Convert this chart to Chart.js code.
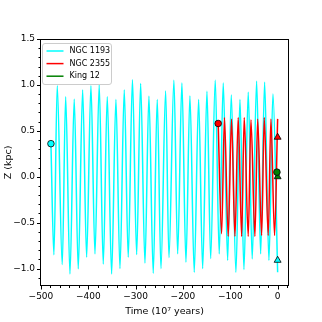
<!DOCTYPE html>
<html><head><meta charset="utf-8">
<script src="https://cdn.jsdelivr.net/npm/chart.js@4.4.1/dist/chart.umd.min.js"></script>
<style>html,body{margin:0;padding:0;background:#fff}</style>
</head><body>
<canvas id="c" width="322" height="322"></canvas>
<script>
// orbit Z(t), time in 10^7 yr, Z in kpc (turning points)
const ngc1193T=[-478.9,-472.6,-465.6,-455.0,-447.8,-438.7,-429.7,-421.2,-411.9,-403.5,-394.4,-385.9,-376.9,-368.4,-359.9,-350.7,-341.6,-333.1,-324.0,-315.6,-306.7,-297.8,-289.4,-280.3,-271.9,-262.8,-254.3,-246.5,-236.6,-229.6,-219.1,-211.2,-202.2,-193.7,-185.3,-176.2,-166.9,-158.4,-149.3,-141.5,-131.8,-123.4,-114.9,-105.6,-98.0,-88.1,-79.6,-71.2,-62.1,-53.7,-44.4,-35.9,-27.5,-18.4,-9.9,0];
const ngc1193Z=[0.36,-0.85,0.99,-0.957,0.87,-1.058,0.845,-1.003,0.945,-0.877,0.99,-0.84,1.0,-0.95,0.87,-1.058,0.84,-1.0,0.945,-0.877,1.055,-0.848,1.015,-0.94,0.877,-1.05,0.84,-1.0,0.935,-0.88,1.05,-0.84,1.02,-0.93,0.88,-1.04,0.84,-1.0,0.93,-0.89,1.05,-0.84,1.02,-0.91,0.89,-1.04,0.84,-1.01,0.92,-0.895,1.04,-0.84,1.03,-0.91,0.90,-1.04];
const ngc2355T=[-125.6,-118.3,-112.4,-104.4,-97.4,-90.2,-83.3,-76.0,-70.6,-62.1,-56.4,-48.0,-42.2,-33.8,-28.3,-19.9,-14.2,-6.5,0];
const ngc2355Z=[0.58,-0.62,0.645,-0.65,0.63,-0.65,0.645,-0.65,0.645,-0.65,0.62,-0.65,0.63,-0.64,0.645,-0.64,0.63,-0.64,0.63];
const king12T=[-1.5,0];
const king12Z=[0.05,0.0];
// birth (circle) and present (triangle) positions
const startT=[-478.9,-125.6,-1.5], startZ=[0.36,0.58,0.05];
const nowT=[0,0,0], nowZ=[-0.91,0.43,0.0];
const names=['NGC 1193','NGC 2355','King 12'];
const colors=['#00ffff','#ff0000','#008000'];
const xTicks=[-500,-400,-300,-200,-100,0];
const yTicks=[-1.0,-0.5,0.0,0.5,1.0,1.5];
const xMinor=[-500,-480,-460,-440,-420,-400,-380,-360,-340,-320,-300,-280,-260,-240,-220,-200,-180,-160,-140,-120,-100,-80,-60,-40,-20,0,20];
const yMinor=[-1.1,-1.0,-0.9,-0.8,-0.7,-0.6,-0.5,-0.4,-0.3,-0.2,-0.1,0.0,0.1,0.2,0.3,0.4,0.5,0.6,0.7,0.8,0.9,1.0,1.1,1.2,1.3,1.4,1.5];

const pts=(t,z)=>t.map((v,i)=>({x:v,y:z[i]}));
const orbits=[[ngc1193T,ngc1193Z],[ngc2355T,ngc2355Z],[king12T,king12Z]];
const fmt=v=>(v<0?'\u2212':'')+Math.abs(v).toFixed(1);
const fmtInt=v=>(v<0?'\u2212':'')+Math.abs(v);

let ds=[];
orbits.forEach((o,i)=>ds.push({label:names[i],data:pts(o[0],o[1]),borderColor:colors[i],borderWidth:1.5,pointRadius:0,cubicInterpolationMode:'monotone',fill:false,order:10-i}));
names.forEach((n,i)=>{
  ds.push({label:'',data:[{x:startT[i],y:startZ[i]}],showLine:false,pointStyle:'circle',pointRadius:3.3,backgroundColor:colors[i],borderColor:'#000',borderWidth:0.8,order:3-i});
  ds.push({label:'',data:[{x:nowT[i],y:nowZ[i]}],showLine:false,pointStyle:'triangle',pointRadius:4,backgroundColor:colors[i],borderColor:'#000',borderWidth:0.8,order:3-i});
});

const frame={id:'frame',afterDraw(ch){
  const c=ch.ctx,a=ch.chartArea,xs=ch.scales.x,ys=ch.scales.y;
  c.save();c.strokeStyle='#000';c.lineWidth=1;
  c.strokeRect(Math.round(a.left)+0.5,Math.round(a.top)+0.5,Math.round(a.right-a.left)-1,Math.round(a.bottom-a.top)-1);
  c.beginPath();
  const b=Math.round(a.bottom),l=Math.round(a.left)+0.5;
  xMinor.forEach(v=>{let p=Math.round(xs.getPixelForValue(v))+0.5;if(p<a.left||p>a.right)return;let L=xTicks.includes(v)?3.5:2;c.moveTo(p,b);c.lineTo(p,b+L);});
  yMinor.forEach(v=>{let p=Math.round(ys.getPixelForValue(v))+0.5;if(p<a.top||p>a.bottom)return;let L=yTicks.some(t=>Math.abs(t-v)<1e-6)?3.5:2;c.moveTo(l,p);c.lineTo(l-L,p);});
  c.stroke();
  // legend
  const bx=42.5,by=43.5,bw=69,bh=41;
  c.fillStyle='rgba(255,255,255,0.85)';c.strokeStyle='#cccccc';c.lineWidth=1;
  c.beginPath();c.roundRect(bx,by,bw,bh,2.5);c.fill();c.stroke();
  c.font='8px "DejaVu Sans"';c.textBaseline='middle';c.textAlign='left';
  names.forEach((n,i)=>{let y=by+7.5+i*12.6;
    c.strokeStyle=colors[i];c.lineWidth=1.5;c.beginPath();c.moveTo(bx+4,y);c.lineTo(bx+21,y);c.stroke();
    c.fillStyle='#000';c.fillText(n,bx+27,y);});
  c.restore();
}};

new Chart(document.getElementById('c'),{
  type:'line',
  data:{datasets:ds},
  options:{
    responsive:false,animation:false,
    layout:{padding:{left:0,right:33,top:39,bottom:0}},
    plugins:{legend:{display:false},tooltip:{enabled:false}},
    scales:{
      x:{type:'linear',min:-502,max:24,
        grid:{display:false,drawTicks:false},border:{display:false},
        afterBuildTicks:s=>{s.ticks=xTicks.map(v=>({value:v}));},
        afterFit:s=>{s.height=36;},
        ticks:{color:'#000',padding:5,maxRotation:0,autoSkip:false,font:{family:'DejaVu Sans',size:9},callback:v=>fmtInt(v)},
        title:{display:true,text:'Time (10\u2077 years)',color:'#000',font:{family:'DejaVu Sans',size:9.5},padding:{top:0,bottom:5}}},
      y:{type:'linear',min:-1.19,max:1.5,
        grid:{display:false,drawTicks:false},border:{display:false},
        afterBuildTicks:s=>{s.ticks=yTicks.map(v=>({value:v}));},
        afterFit:s=>{s.width=40;},
        ticks:{color:'#000',padding:5,autoSkip:false,font:{family:'DejaVu Sans',size:9},callback:v=>fmt(v)},
        title:{display:true,text:'Z (kpc)',color:'#000',font:{family:'DejaVu Sans',size:9.5},padding:{top:2.5,bottom:0}}}
    }
  },
  plugins:[frame]
});
</script>
</body></html>
